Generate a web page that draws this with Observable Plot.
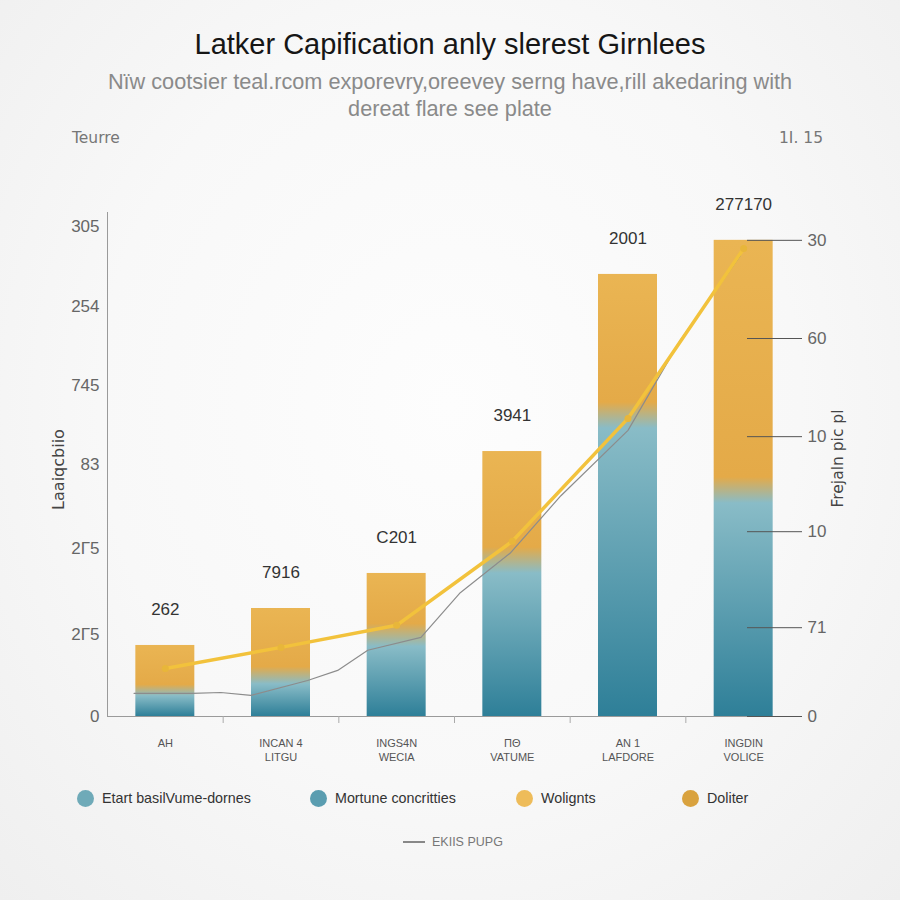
<!DOCTYPE html>
<html><head><meta charset="utf-8">
<script src="https://cdn.jsdelivr.net/npm/d3@7"></script>
<script src="https://cdn.jsdelivr.net/npm/@observablehq/plot@0.6"></script>
<style>
html,body{margin:0;padding:0;}
body{width:900px;height:900px;overflow:hidden;background:radial-gradient(ellipse at 50% 45%, #fdfdfd 0%, #f8f8f8 55%, #efefef 100%);font-family:"Liberation Sans",Arial,sans-serif;}
#wrap{position:relative;width:900px;height:900px;}
.title{position:absolute;left:0;width:900px;top:27px;text-align:center;font-size:29px;line-height:34px;color:#161616;}
.sub{position:absolute;left:0;width:900px;top:68px;text-align:center;font-size:21.7px;line-height:27px;color:#8a8a8a;}
.corner{position:absolute;top:128px;font-family:"DejaVu Sans",sans-serif;font-size:15.5px;line-height:20px;color:#777;}
#chart{position:absolute;left:0;top:160px;}
.leg{position:absolute;top:789px;height:18px;font-size:14.3px;color:#333;display:flex;align-items:center;white-space:nowrap;}
.dot{width:17px;height:17px;border-radius:50%;margin-right:8px;}
.lineleg{position:absolute;top:834px;left:403px;height:16px;font-size:12.5px;color:#777;display:flex;align-items:center;}
.lineleg span.l{display:inline-block;width:22px;height:1.5px;background:#888;margin-right:7px;}
</style></head>
<body>
<div id="wrap">
  <div class="title" id="title"></div>
  <div class="sub" id="sub"></div>
  <div class="corner" id="cl" style="left:72px"></div>
  <div class="corner" id="cr" style="left:779px"></div>
  <div id="chart"></div>
  <div id="legend"></div>
  <div class="lineleg"><span class="l"></span><span id="lineLegText"></span></div>
</div>
<script>
// ---- data ----
const titleText = "Latker Capification anly slerest Girnlees";
const subtitleLines = ["Nïw cootsier teal.rcom exporevry,oreevey serng have,rill akedaring with", "dereat flare see plate"];
const cornerLeft = "Teurre";
const cornerRight = "1I. 15";
const categories = ["AH", "INCAN 4\nLITGU", "INGS4N\nWECIA", "ΠΘ\nVATUME", "AN 1\nLAFDORE", "INGDIN\nVOLICE"];
const tealValues = [5.4, 8.5, 16.9, 32.5, 62.7, 47.1];
const orangeValues = [9.4, 14.0, 12.9, 22.7, 29.4, 52.1];
const valueLabels = ["262", "7916", "C201", "3941", "2001", "277170"];
const lineValues = [10, 14.4, 19, 36.5, 62.1, 97.5];
const greyLineX = [0.23, 0.73, 0.98, 1.24, 1.73, 1.99, 2.25, 2.71, 3.05, 3.48, 3.92, 4.5, 4.95, 5.3, 5.47];
const greyLineY = [4.8, 4.8, 5.0, 4.4, 7.5, 9.6, 13.8, 16.5, 25.8, 34.0, 46.0, 59.6, 78.3, 90.2, 96.0];
const leftTicks = [0, 17, 35, 52.5, 69, 85.5, 102];
const leftTickLabels = ["0", "2Γ5", "2Γ5", "83", "745", "254", "305"];
const rightTicks = [0, 18.5, 38.5, 58.3, 78.75, 99.2];
const rightTickLabels = ["0", "71", "10", "10", "60", "30"];
const leftAxisTitle = "Laaiqcbiio";
const rightAxisTitle = "Frejaln pic pl";
const legendLabels = ["Etart basilVume-dornes", "Mortune concritties", "Wolignts", "Doliter"];
const legendColors = ["#6faab8", "#5a9db0", "#eebc5a", "#d9a23e"];
const lineLegendLabel = "EKIIS PUPG";

// ---- header / legend text ----
document.getElementById("title").textContent = titleText;
document.getElementById("sub").innerHTML = subtitleLines.map(s => s.replace(/&/g,"&amp;")).join("<br>");
document.getElementById("cl").textContent = cornerLeft;
document.getElementById("cr").textContent = cornerRight;
document.getElementById("lineLegText").textContent = lineLegendLabel;
const legendLeft = [77, 310, 516, 682];
const legEl = document.getElementById("legend");
legendLabels.forEach((lab, i) => {
  const d = document.createElement("div");
  d.className = "leg";
  d.style.left = legendLeft[i] + "px";
  d.innerHTML = `<span class="dot" style="background:${legendColors[i]}"></span><span></span>`;
  d.lastChild.textContent = lab;
  legEl.appendChild(d);
});

// ---- chart ----
const bars = categories.map((c, i) => ({
  i, c, teal: tealValues[i], orange: orangeValues[i],
  total: tealValues[i] + orangeValues[i], label: valueLabels[i], line: lineValues[i]
}));
const grey = greyLineX.map((x, i) => ({x, y: greyLineY[i]}));
const leftMap = new Map(leftTicks.map((v, i) => [v, leftTickLabels[i]]));
const rightMap = new Map(rightTicks.map((v, i) => [v, rightTickLabels[i]]));
const halfBar = 0.255;

const plot = Plot.plot({
  width: 900, height: 620,
  marginLeft: 107, marginRight: 99, marginTop: 52, marginBottom: 64,
  style: {background: "transparent", fontFamily: "Liberation Sans, Arial, sans-serif", fontSize: "14px", color: "#666"},
  x: {domain: [0, categories.length]},
  y: {domain: [0, 105]},
  marks: [
    Plot.rectY(bars, {x1: d => d.i + 0.5 - halfBar, x2: d => d.i + 0.5 + halfBar, y1: 0, y2: "total", fill: d => `url(#barGrad${d.i})`}),
    Plot.ruleX([0], {stroke: "#9a9a9a", strokeWidth: 1}),
    Plot.ruleY([0], {stroke: "#9a9a9a", strokeWidth: 1}),
    Plot.axisX(d3.range(1, categories.length), {tickSize: 7, fill: "none", stroke: "#aaa", label: null}),
    Plot.axisX(bars.map(d => d.i + 0.5), {tickSize: 0, tickPadding: 21, tickFormat: v => categories[Math.floor(v)], fontSize: 11, lineHeight: 1.25, fill: "#555", label: null}),
    Plot.axisY(leftTicks, {anchor: "left", tickSize: 0, tickPadding: 8, tickFormat: v => leftMap.get(v), fontSize: 17, fill: "#666", label: null}),
    Plot.axisY(rightTicks, {anchor: "right", tickSize: 55, dx: -55, fill: "none", stroke: "#555", label: null}),
    Plot.axisY(rightTicks, {anchor: "right", tickSize: 0, tickPadding: 6, tickFormat: v => rightMap.get(v), fontSize: 17, fill: "#666", label: null}),
    Plot.line(grey, {x: "x", y: "y", stroke: "#8c8c8c", strokeWidth: 1.2, curve: "linear"}),
    Plot.line(bars, {x: d => d.i + 0.5, y: "line", stroke: "#f2c23c", strokeWidth: 3.5, strokeLinejoin: "round"}),
    Plot.dot(bars, {x: d => d.i + 0.5, y: "line", r: 3.5, fill: "#e8b63a"}),
    Plot.text(bars, {x: d => d.i + 0.5, y: "total", text: "label", dy: -36, fontSize: 17, fill: "#333"}),
    Plot.text([leftAxisTitle], {frameAnchor: "left", textAnchor: "middle", rotate: -90, dx: -49, dy: 5, fontSize: 16, fontFamily: "DejaVu Sans", fill: "#444"}),
    Plot.text([rightAxisTitle], {frameAnchor: "right", textAnchor: "middle", rotate: -90, dx: 37, dy: -6, fontSize: 15.5, fontFamily: "DejaVu Sans", fill: "#444"})
  ]
});
document.getElementById("chart").appendChild(plot);

// gradient definitions derived from data
const svg = d3.select(plot);
const defs = svg.insert("defs", ":first-child");
const pxPerUnit = 504 / 105;
bars.forEach(b => {
  const totalPx = b.total * pxPerUnit;
  const f = b.orange / b.total;                   // fraction of bar (from top) that is orange
  const blend = Math.min(13, totalPx * 0.08) / totalPx;  // soft transition
  const g = defs.append("linearGradient").attr("id", `barGrad${b.i}`).attr("x1", 0).attr("y1", 0).attr("x2", 0).attr("y2", 1);
  g.append("stop").attr("offset", 0).attr("stop-color", "#eab553");
  g.append("stop").attr("offset", Math.max(0, f - blend)).attr("stop-color", "#e4aa48");
  g.append("stop").attr("offset", Math.min(1, f + blend)).attr("stop-color", "#89bcc7");
  g.append("stop").attr("offset", 1).attr("stop-color", "#2e7f98");
});
</script>
</body></html>
